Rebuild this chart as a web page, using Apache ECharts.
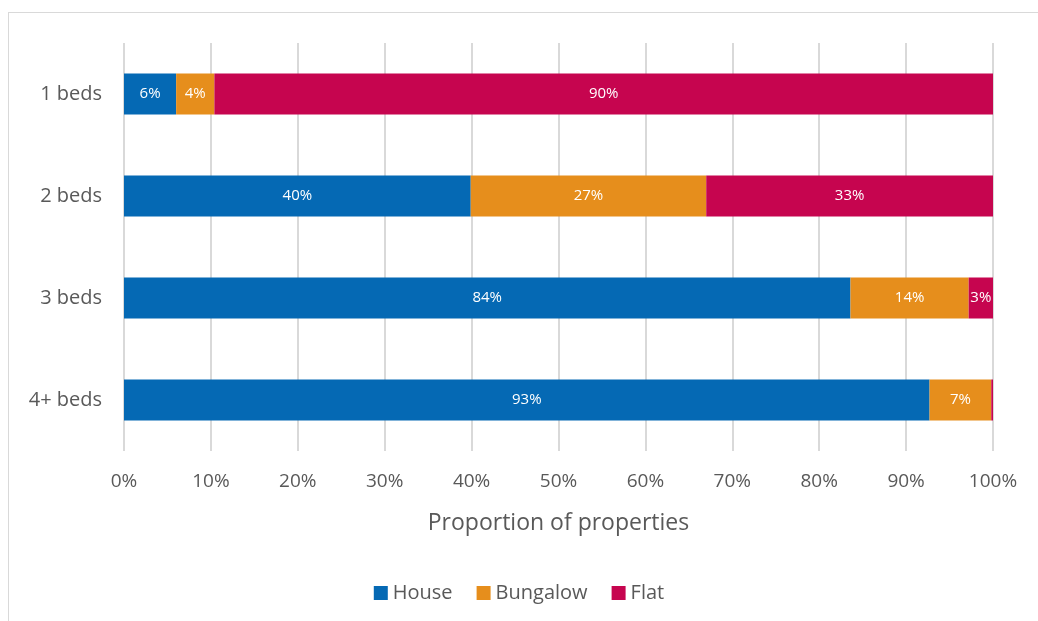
<!DOCTYPE html>
<html>
<head>
<meta charset="utf-8">
<script src="https://cdn.jsdelivr.net/npm/echarts@6/dist/echarts.min.js"></script>
<style>
  html, body { margin: 0; padding: 0; background: #fff; }
  #frame {
    position: absolute; left: 8px; top: 12px; width: 1100px; height: 700px;
    border-left: 1px solid #d9d9d9; border-top: 1px solid #d9d9d9;
  }
  #chart { position: absolute; left: 0; top: 0; width: 1038px; height: 621px; }
</style>
</head>
<body>
<div id="frame"></div>
<div id="chart"></div>
<script>
  // bedroom groups, top to bottom
  const categories = ['1 beds', '2 beds', '3 beds', '4+ beds'];
  // share of properties (%) by type
  const house = [6.0, 39.9, 83.6, 92.7];
  const bungalow = [4.4, 27.1, 13.6, 7.1];
  const flat = [89.6, 33.0, 2.8, 0.2];
  const xTicks = [0, 10, 20, 30, 40, 50, 60, 70, 80, 90, 100];

  const font = '"Open Sans", "Noto Sans", sans-serif';
  const labelStyle = {
    show: true,
    position: 'inside',
    color: '#fff',
    fontSize: 15,
    fontFamily: font,
    formatter: function (p) {
      return p.value < 1 ? '' : Math.round(p.value) + '%';
    }
  };

  let myChart = echarts.init(document.getElementById('chart'));
  myChart.setOption({
    animation: false,
    color: ['#0569b4', '#e68e1c', '#c6054f'],
    grid: {
      left: 124,
      right: 45,
      top: 43,
      bottom: 170
    },
    legend: {
      bottom: 13,
      left: 'center',
      icon: 'rect',
      itemWidth: 14,
      itemHeight: 14,
      itemGap: 24,
      textStyle: { color: '#595959', fontSize: 20, fontFamily: font }
    },
    xAxis: {
      type: 'value',
      min: xTicks[0],
      max: xTicks[xTicks.length - 1],
      interval: 10,
      name: 'Proportion of properties',
      nameLocation: 'middle',
      nameGap: 61,
      nameTextStyle: { color: '#595959', fontSize: 23, fontFamily: font },
      axisLabel: {
        color: '#595959',
        fontSize: 19,
        fontFamily: font,
        margin: 21,
        formatter: '{value}%'
      },
      axisLine: { show: false },
      axisTick: { show: false },
      splitLine: { lineStyle: { color: '#d9d9d9', width: 2 } }
    },
    yAxis: {
      type: 'category',
      inverse: true,
      data: categories,
      axisLabel: { color: '#595959', fontSize: 20, fontFamily: font, margin: 22 },
      axisLine: { show: false },
      axisTick: { show: false }
    },
    series: [
      { name: 'House', type: 'bar', stack: 'total', barWidth: '40%', data: house, label: labelStyle },
      { name: 'Bungalow', type: 'bar', stack: 'total', barWidth: '40%', data: bungalow, label: labelStyle },
      { name: 'Flat', type: 'bar', stack: 'total', barWidth: '40%', data: flat, label: labelStyle }
    ]
  });
</script>
</body>
</html>
